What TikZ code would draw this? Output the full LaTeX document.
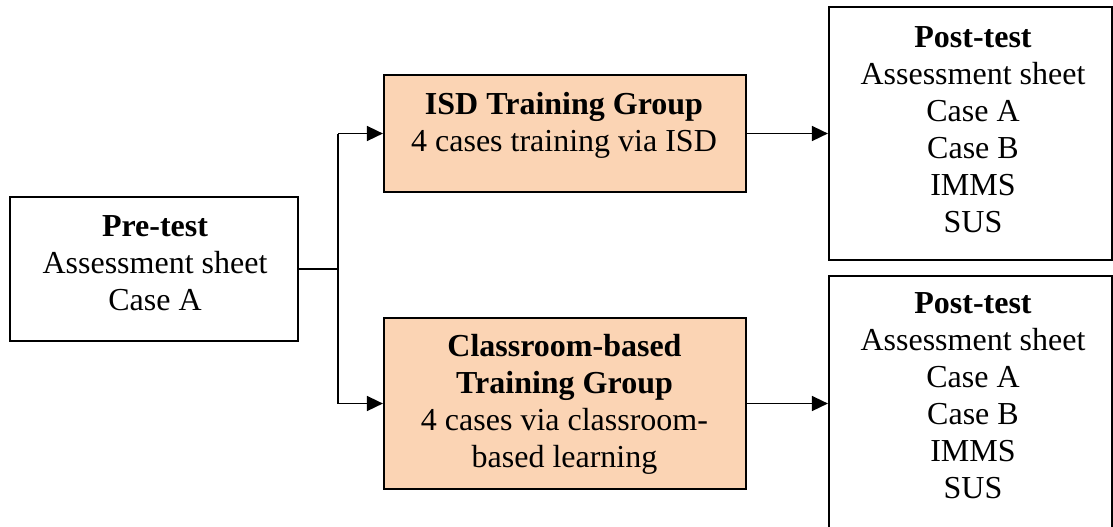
\documentclass[tikz,border=0pt]{standalone}
\usepackage{fontspec}
\setmainfont{Liberation Serif}
\usetikzlibrary{arrows.meta}
\definecolor{peach}{HTML}{FBD4B4}
\tikzset{
  box/.style={draw=black, line width=1.1pt, rectangle, inner sep=0pt},
  groupbox/.style={box, fill=peach},
  txt/.style={anchor=north, inner sep=0pt, align=center,
              font=\fontsize{16}{18.5}\selectfont},
  link/.style={draw=black, line width=0.8pt},
  arrow/.style={link, -{Triangle[length=8pt,width=7.5pt]}}
}
\begin{document}
\begin{tikzpicture}[x=0.5pt, y=-0.5pt]
  \useasboundingbox (0,0) rectangle (1113,526);
  \clip (0,0) rectangle (1113,526);

  % boxes
  \node[box, minimum width=144pt, minimum height=72pt] (pre) at (154,269) {};
  \node[groupbox, minimum width=181pt, minimum height=58.5pt] (isd) at (565,133.5) {};
  \node[groupbox, minimum width=181pt, minimum height=85.5pt] (cls) at (565,403.5) {};
  \node[box, minimum width=141.5pt, minimum height=126.5pt] (postA) at (970.5,133.5) {};
  \node[box, minimum width=141.5pt, minimum height=127.5pt] (postB) at (970.5,403.5) {};

  % texts
  \node[txt] (preT) at (155,210.6)
    {\strut\textbf{Pre-test}\\\strut Assessment sheet\\\strut Case A};
  \node[txt] (isdT) at (564,88.1)
    {\strut\textbf{ISD Training Group}\\\strut 4 cases training via ISD};
  \node[txt] (clsT) at (564.5,330.1)
    {\strut\textbf{Classroom-based}\\\strut\textbf{Training Group}\\\strut 4 cases via classroom-\\\strut based learning};
  \node[txt] (postAT) at (973,21.1)
    {\strut\textbf{Post-test}\\\strut Assessment sheet\\\strut Case A\\\strut Case B\\\strut IMMS\\\strut SUS};
  \node[txt] (postBT) at (973,287.1)
    {\strut\textbf{Post-test}\\\strut Assessment sheet\\\strut Case A\\\strut Case B\\\strut IMMS\\\strut SUS};

  % connectors
  \coordinate (split) at (338,269);
  \coordinate (splitTop) at (split |- isd.west);
  \coordinate (splitBot) at (split |- cls.west);
  \draw[link] (pre.east) -- (split);
  \draw[link] (splitTop) -- (splitBot);
  \draw[arrow] (splitTop) -- (isd.west);
  \draw[arrow] (splitBot) -- (cls.west);
  \draw[arrow] (isd.east) -- (postA.west);
  \draw[arrow] (cls.east) -- (postB.west);
\end{tikzpicture}
\end{document}
